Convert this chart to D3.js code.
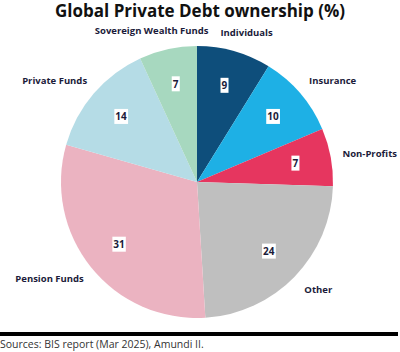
<!DOCTYPE html>
<html><head><meta charset="UTF-8">
<style>
body { margin: 0; background: #fff; }
text { font-family: "Open Sans", sans-serif; }
</style>
</head>
<body>
<svg width="400" height="352"></svg>
<script src="https://cdn.jsdelivr.net/npm/d3@7"></script>
<script>

var owners = ["Individuals", "Insurance", "Non-Profits", "Other", "Pension Funds", "Private Funds", "Sovereign Wealth Funds"];
var shares = [9, 10, 7, 24, 31, 14, 7];
var colors = ["#0e4e7b", "#1eb0e5", "#e6365f", "#bfbfbf", "#ebb3c1", "#b5dce6", "#a7d8bf"];

var svg = d3.select("svg"),
    cx = 197, cy = 182,
    radius = 136;

svg.append("text")
    .attr("x", 200)
    .attr("y", 17)
    .attr("text-anchor", "middle")
    .attr("font-size", 17)
    .attr("font-weight", "bold")
    .attr("fill", "#111")
    .text("Global Private Debt ownership (%)");

var data = owners.map(function(d, i) { return { name: d, value: shares[i], color: colors[i] }; });

var pie = d3.pie().sort(null).value(function(d) { return d.value; });
var arc = d3.arc().innerRadius(0).outerRadius(radius);
var inner = d3.arc().innerRadius(100).outerRadius(100);

var g = svg.append("g").attr("transform", "translate(" + cx + "," + cy + ")");
var arcs = pie(data);

g.selectAll("path")
    .data(arcs)
    .enter().append("path")
      .attr("d", arc)
      .attr("fill", function(d) { return d.data.color; });

// value labels with white box
var vals = g.selectAll("g.val")
    .data(arcs)
    .enter().append("g")
      .attr("class", "val")
      .attr("transform", function(d) { return "translate(" + inner.centroid(d) + ")"; });

vals.append("text")
    .attr("text-anchor", "middle")
    .attr("dy", "0.35em")
    .attr("font-size", 10)
    .attr("font-weight", "bold")
    .attr("fill", "#1b1b3a")
    .text(function(d) { return d.data.value; })
    .each(function() {
        var b = this.getBBox();
        d3.select(this.parentNode).insert("rect", "text")
            .attr("x", b.x - 1)
            .attr("y", b.y - 0.5)
            .attr("width", b.width + 2)
            .attr("height", b.height + 1)
            .attr("fill", "#fff");
    });

// outside category labels, kept inside the page
var outR = 155;
g.selectAll("text.name")
    .data(arcs)
    .enter().append("text")
      .attr("class", "name")
      .attr("dy", "0.35em")
      .attr("font-size", 9.5)
      .attr("font-weight", "bold")
      .attr("fill", "#1b1b3a")
      .text(function(d) { return d.data.name; })
      .each(function(d) {
          var a = (d.startAngle + d.endAngle) / 2,
              w = this.getComputedTextLength(),
              px = outR * Math.sin(a),
              py = -outR * Math.cos(a),
              left = px + w * (Math.sin(a) - 1) / 2;
          left = Math.max(left, 14 - cx);
          left = Math.min(left, 397 - cx - w);
          if (left <= 14 - cx) py += 5;
          d3.select(this).attr("x", left).attr("y", py);
      });

// footer
svg.append("rect")
    .attr("x", 0)
    .attr("y", 332)
    .attr("width", 398)
    .attr("height", 4)
    .attr("fill", "#000");

svg.append("text")
    .attr("x", 0)
    .attr("y", 348)
    .attr("font-size", 10.5)
    .attr("fill", "#333")
    .text("Sources: BIS report (Mar 2025), Amundi II.");

</script>
</body></html>
